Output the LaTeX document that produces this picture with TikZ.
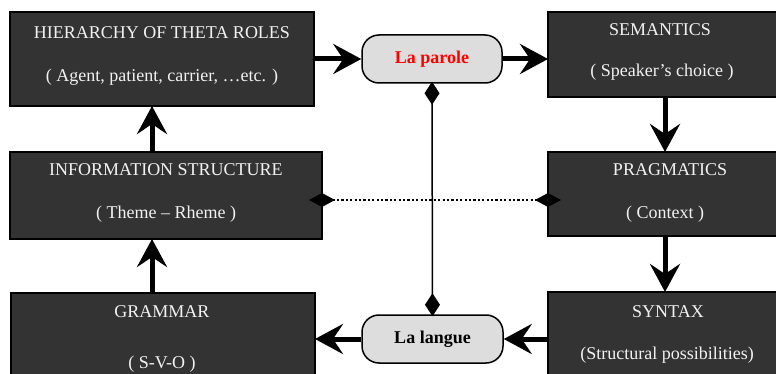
\documentclass[tikz,border=0pt]{standalone}
\usepackage{fontspec}
\setmainfont{Liberation Serif}
\usetikzlibrary{arrows.meta}
\definecolor{boxfill}{HTML}{333333}
\definecolor{boxtext}{HTML}{F2F2F2}
\definecolor{pillfill}{HTML}{DDDDDD}
\tikzset{
  darkbox/.style={draw=black, line width=1.5pt, fill=boxfill, inner sep=0pt},
  boxlabel/.style={text=boxtext, font=\fontsize{18}{20}\selectfont, inner sep=0pt, anchor=center},
  pill/.style={draw=black, line width=1.5pt, fill=pillfill, rounded corners=17pt, inner sep=0pt},
  pilllabel/.style={font=\fontsize{18}{20}\selectfont\bfseries, inner sep=0pt},
  bigarrow/.style={line width=5pt, -{Stealth[length=28pt,width=30pt,inset=10pt]}},
  diamline/.style={line width=1.5pt, {Diamond[length=23pt,width=15pt]}-{Diamond[length=23pt,width=15pt]}},
  dotline/.style={line width=2.2pt, dash pattern=on 2.2pt off 2.2pt,
    {Diamond[length=26pt,width=14pt]}-{Diamond[length=26pt,width=14pt]},
    shorten <=-13pt, shorten >=-13pt},
}
\begin{document}
\begin{tikzpicture}[x=1pt,y=-1pt]
\useasboundingbox (0,0) rectangle (776,374);
% boxes
\draw[darkbox] (10,12) rectangle (314,106) node[pos=.5, inner sep=0pt] (hier) {};
\draw[darkbox] (548,12) rectangle (782,97) node[pos=.5, inner sep=0pt] (sem) {};
\draw[darkbox] (10,152) rectangle (322,239) node[pos=.5, inner sep=0pt] (info) {};
\draw[darkbox] (548,152) rectangle (782,236) node[pos=.5, inner sep=0pt] (prag) {};
\draw[darkbox] (11,293) rectangle (315,380) node[pos=.5, inner sep=0pt] (gram) {};
\draw[darkbox] (548,292) rectangle (782,380) node[pos=.5, inner sep=0pt] (syn) {};
% named edge coordinates of boxes
\coordinate (hierE) at (314,59);
\coordinate (hierS) at (152,106);
\coordinate (semW) at (548,59);
\coordinate (semS) at (665,97);
\coordinate (infoN) at (152,152);
\coordinate (infoS) at (152,239);
\coordinate (infoE) at (322,200);
\coordinate (pragN) at (665,152);
\coordinate (pragS) at (665,236);
\coordinate (pragW) at (548,200);
\coordinate (gramN) at (152,293);
\coordinate (gramE) at (315,339);
\coordinate (synN) at (665,292);
\coordinate (synW) at (548,339);
% box texts
\node[boxlabel] (hierT) at (162,33) {HIERARCHY OF THETA ROLES};
\node[boxlabel] (hierS2) at (162,77) {( Agent, patient, carrier, …etc. )};
\node[boxlabel] (semT) at (660,30) {SEMANTICS};
\node[boxlabel] (semS2) at (662,72) {( Speaker’s choice )};
\node[boxlabel] (infoT) at (166,170) {INFORMATION STRUCTURE};
\node[boxlabel] (infoS2) at (166,214) {( Theme – Rheme )};
\node[boxlabel] (pragT) at (670,170) {PRAGMATICS};
\node[boxlabel] (pragS2) at (665,214) {( Context )};
\node[boxlabel] (gramT) at (162,312) {GRAMMAR};
\node[boxlabel] (gramS2) at (162,364) {( S-V-O )};
\node[boxlabel] (synT) at (668,312) {SYNTAX};
\node[boxlabel] (synS2) at (667,355) {(Structural possibilities)};
% pills
\node[pill, minimum width=140pt, minimum height=48pt] (parole) at (432,59) {};
\node[pilllabel, text=red] (paroleT) at (432,59) {La parole};
\node[pill, minimum width=141pt, minimum height=48pt] (langue) at (432.5,339) {};
\node[pilllabel, text=black] (langueT) at (432.5,339) {La langue};
% connectors
\draw[bigarrow] (hierE) -- (parole.west);
\draw[bigarrow] (parole.east) -- (semW);
\draw[bigarrow] (semS) -- (pragN);
\draw[bigarrow] (pragS) -- (synN);
\draw[bigarrow] (synW) -- (langue.east);
\draw[bigarrow] (langue.west) -- (gramE);
\draw[bigarrow] (gramN) -- (infoS);
\draw[bigarrow] (infoN) -- (hierS);
\draw[diamline] ([yshift=2pt]parole.south) -- ([yshift=-2pt]langue.north);
\draw[dotline] (infoE) -- (pragW);
\end{tikzpicture}
\end{document}
